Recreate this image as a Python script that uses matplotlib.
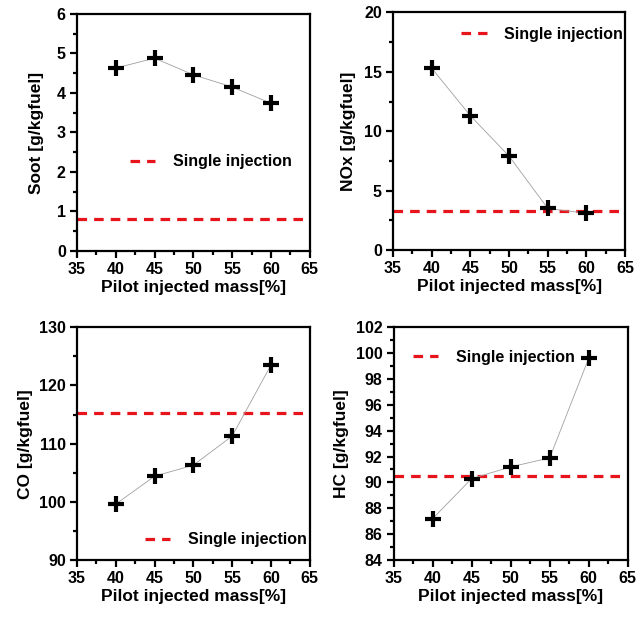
import matplotlib
matplotlib.use("Agg")
import matplotlib.pyplot as plt
from matplotlib.ticker import MultipleLocator
from matplotlib.lines import Line2D

plt.rcParams['font.family'] = ['Liberation Sans', 'DejaVu Sans']
plt.rcParams['font.weight'] = 'bold'

pilot_mass = [40, 45, 50, 55, 60]

soot = [4.63, 4.88, 4.46, 4.15, 3.74]
nox = [15.3, 11.3, 7.9, 3.5, 3.1]
co = [99.6, 104.4, 106.3, 111.3, 123.5]
hc = [87.2, 90.3, 91.2, 91.9, 99.6]

soot_single = 0.8
nox_single = 3.3
co_single = 115.2
hc_single = 90.5

xlabel = "Pilot injected mass[%]"
legend_label = "Single injection"

panels = [
    # (rect, values, single, ylabel, ylim, major, minor, legend anchor, labelpad)
    ([0.121, 0.5945, 0.366, 0.383], soot, soot_single, "Soot [g/kgfuel]", (0, 6), 1, 0.5, (0.227, 0.376), 9),
    ([0.618, 0.596, 0.365, 0.384], nox, nox_single, "NOx [g/kgfuel]", (0, 20), 5, 2.5, (0.293, 0.907), 6),
    ([0.121, 0.0953, 0.366, 0.376], co, co_single, "CO [g/kgfuel]", (90, 130), 10, 5, (0.292, 0.086), 4),
    ([0.619, 0.0953, 0.368, 0.376], hc, hc_single, "HC [g/kgfuel]", (84, 102), 2, 1, (0.081, 0.871), 5),
]

fig = plt.figure(figsize=(6.36, 6.19), dpi=100)
red = '#e8141b'

for rect, vals, single, ylab, ylim, major, minor, anchor, lpad in panels:
    ax = fig.add_axes(rect)
    ax.plot(pilot_mass, vals, color='#a0a0a0', lw=0.6, zorder=2)
    ax.plot(pilot_mass, vals, ls='none', marker='+', ms=11, mew=3,
            color='black', zorder=3)
    ax.axhline(single, color=red, lw=2.3, dashes=(3, 2.2), zorder=1)
    ax.set_xlim(35, 65)
    ax.set_ylim(*ylim)
    ax.xaxis.set_major_locator(MultipleLocator(5))
    ax.xaxis.set_minor_locator(MultipleLocator(2.5))
    ax.yaxis.set_major_locator(MultipleLocator(major))
    ax.yaxis.set_minor_locator(MultipleLocator(minor))
    for s in ax.spines.values():
        s.set_linewidth(1.6)
    ax.tick_params(which='major', direction='out', length=5, width=1.6,
                   labelsize=11.5, pad=3)
    ax.tick_params(which='minor', direction='out', length=3, width=1.6)
    for lbl in ax.get_xticklabels() + ax.get_yticklabels():
        lbl.set_fontweight('bold')
    ax.set_xlabel(xlabel, fontsize=12.5, fontweight='bold', labelpad=2)
    ax.set_ylabel(ylab, fontsize=12.5, fontweight='bold', labelpad=lpad)
    handle = Line2D([], [], color=red, lw=2.3, dashes=(3, 2.2))
    ax.legend([handle], [legend_label], loc='center left', bbox_to_anchor=anchor,
              frameon=False, borderpad=0, borderaxespad=0, handlelength=1.6,
              handletextpad=1.1, prop={'size': 11.5, 'weight': 'bold'})

fig.savefig("out.png", dpi=100)
